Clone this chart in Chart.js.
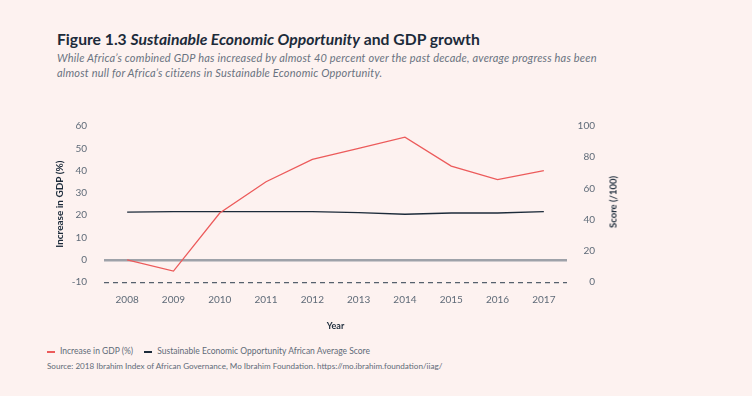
<!DOCTYPE html>
<html lang="en">
<head>
<meta charset="UTF-8">
<title>Figure 1.3</title>
<script src="https://cdn.jsdelivr.net/npm/chart.js"></script>
<style>
  body { margin: 0; background: #fdf2f0; width: 752px; height: 396px; position: relative; overflow: hidden; font-family: Lato, "Open Sans", sans-serif; }
  .titulo { position: absolute; left: 57px; top: 30px; font-size: 15.7px; font-weight: 700; color: #1c2b3a; white-space: nowrap; }
  .sub { position: absolute; left: 57px; top: 50px; font-size: 11px; letter-spacing: 0.2px; font-style: italic; color: #6a7380; line-height: 15px; }
  .caixa { position: absolute; left: 0; top: 110px; width: 752px; height: 225px; }
  .score { position: absolute; left: 613px; top: 202px; transform: translate(-50%, -50%) rotate(-90deg); font-size: 9.5px; font-weight: 700; color: #1c2b3a; white-space: nowrap; }
  .legenda { position: absolute; left: 47px; top: 346px; font-size: 8.5px; color: #5f6b78; white-space: nowrap; }
  .legenda span.m { display: inline-block; width: 8px; height: 2px; vertical-align: middle; margin-right: 5px; }
  .fonte { position: absolute; left: 47px; top: 361px; font-size: 8.1px; color: #5f6b78; white-space: nowrap; }
</style>
</head>
<body>
  <div class="titulo">Figure 1.3 <i>Sustainable Economic Opportunity</i> and GDP growth</div>
  <div class="sub">While Africa’s combined GDP has increased by almost 40 percent over the past decade, average progress has been<br>almost null for Africa’s citizens in Sustainable Economic Opportunity.</div>
  <div class="caixa"><canvas id="grafico"></canvas></div>
  <div class="score">Score (/100)</div>
  <div class="legenda">
    <span class="m" style="background:#ec5b5b"></span>Increase in GDP (%)
    <span class="m" style="background:#1c2b3a; margin-left:9px"></span>Sustainable Economic Opportunity African Average Score
  </div>
  <div class="fonte">Source: 2018 Ibrahim Index of African Governance, Mo Ibrahim Foundation. https://mo.ibrahim.foundation/iiag/</div>

<script>
  // dados
  var anos = ['2008', '2009', '2010', '2011', '2012', '2013', '2014', '2015', '2016', '2017'];
  var gdp = [0, -5, 21, 35, 45, 50, 55, 42, 36, 40];
  var score = [44.8, 45.2, 45.2, 45.2, 45.2, 44.5, 43.5, 44.3, 44.3, 45.2];
  var ticksGdp = [-10, 0, 10, 20, 30, 40, 50, 60];
  var ticksScore = [0, 20, 40, 60, 80, 100];

  var corTick = '#5f6b78';

  // tira o padding extra que o chart.js coloca em cima/baixo dos eixos y
  function semPadding(escala, largura) {
    escala.width = largura;
    escala.paddingTop = 0;
    escala.paddingBottom = 0;
  }

  var ctx = document.getElementById('grafico').getContext('2d');
  var grafico = new Chart(ctx, {
    type: 'line',
    data: {
      labels: anos,
      datasets: [
        {
          label: 'Increase in GDP (%)',
          data: gdp,
          borderColor: '#ec5b5b',
          borderWidth: 1.3,
          pointRadius: 0,
          tension: 0,
          yAxisID: 'y'
        },
        {
          label: 'Sustainable Economic Opportunity African Average Score',
          data: score,
          borderColor: '#1c2b3a',
          borderWidth: 1.3,
          pointRadius: 0,
          tension: 0,
          yAxisID: 'y2'
        }
      ]
    },
    options: {
      responsive: true,
      maintainAspectRatio: false,
      animation: false,
      layout: { padding: { left: 48, right: 157, top: 16, bottom: 4 } },
      plugins: { legend: { display: false }, tooltip: { enabled: false } },
      scales: {
        x: {
          offset: true,
          grid: { display: false, drawTicks: false },
          border: { display: false },
          ticks: { color: corTick, font: { family: 'Lato', size: 10 }, padding: 12, maxRotation: 0 },
          title: { display: true, text: 'Year', color: '#1c2b3a', font: { family: 'Lato', size: 9, weight: 'bold' }, padding: { top: 2, bottom: 0 } }
        },
        y: {
          position: 'left',
          min: -10,
          max: 60,
          afterBuildTicks: function (escala) { escala.ticks = ticksGdp.map(function (v) { return { value: v }; }); },
          grid: {
            drawTicks: false,
            color: function (c) {
              if (!c.tick) return 'rgba(0,0,0,0)';
              if (c.tick.value === 0) return '#9ea2a9';
              if (c.tick.value === -10) return '#56616d';
              return 'rgba(0,0,0,0)';
            },
            lineWidth: function (c) {
              if (!c.tick) return 0;
              if (c.tick.value === 0) return 2.5;
              if (c.tick.value === -10) return 1.2;
              return 0;
            }
          },
          border: {
            display: false,
            dash: function (c) { return c.tick && c.tick.value === -10 ? [5, 4] : []; }
          },
          ticks: { color: corTick, font: { family: 'Lato', size: 10 }, padding: 17 },
          title: { display: true, text: 'Increase in GDP (%)', color: '#1c2b3a', font: { family: 'Lato', size: 10, weight: 'bold' }, padding: { top: 6, bottom: 4 } },
          afterFit: function (escala) { semPadding(escala, 56); }
        },
        y2: {
          position: 'right',
          min: 0,
          max: 100,
          afterBuildTicks: function (escala) { escala.ticks = ticksScore.map(function (v) { return { value: v }; }); },
          grid: { display: false, drawTicks: false },
          border: { display: false },
          ticks: { color: corTick, font: { family: 'Lato', size: 10 }, padding: 4, crossAlign: 'far' },
          afterFit: function (escala) { semPadding(escala, 28); }
        }
      }
    }
  });
</script>
</body>
</html>
